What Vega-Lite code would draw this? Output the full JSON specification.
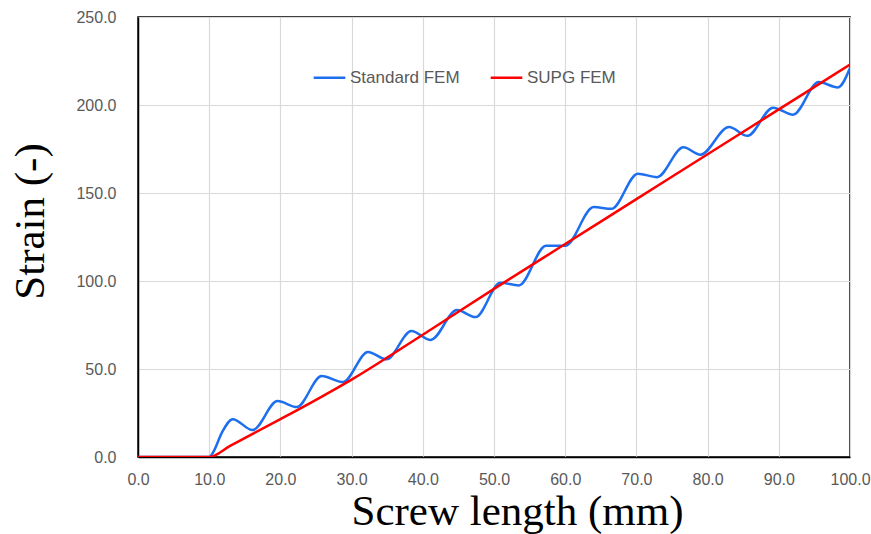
{
  "$schema": "https://vega.github.io/schema/vega-lite/v6.json",
  "width": 712,
  "height": 440,
  "autosize": "none",
  "padding": {"left": 138, "top": 17, "right": 21, "bottom": 77},
  "background": "white",
  "config": {
    "view": {"stroke": "#000000", "strokeWidth": 1.5},
    "axis": {"labelFont": "Liberation Sans", "labelFontSize": 16, "labelColor": "#595959", "titleFont": "Liberation Serif", "titleFontWeight": "normal", "titleColor": "#000000", "gridColor": "#d9d9d9", "gridWidth": 1.2, "ticks": false, "domainColor": "#000000", "domainWidth": 1.5}
  },
  "data": {
    "values": [
      {"x": 0, "y": 0, "s": "Standard FEM"},
      {"x": 10, "y": 0, "s": "Standard FEM"},
      {"x": 10.6, "y": 3, "s": "Standard FEM"},
      {"x": 11.8, "y": 14, "s": "Standard FEM"},
      {"x": 13.3, "y": 21.5, "s": "Standard FEM"},
      {"x": 16.1, "y": 15.3, "s": "Standard FEM"},
      {"x": 19.6, "y": 31.8, "s": "Standard FEM"},
      {"x": 22.3, "y": 28.4, "s": "Standard FEM"},
      {"x": 25.8, "y": 46, "s": "Standard FEM"},
      {"x": 28.8, "y": 42.6, "s": "Standard FEM"},
      {"x": 32.3, "y": 59.7, "s": "Standard FEM"},
      {"x": 34.9, "y": 55.5, "s": "Standard FEM"},
      {"x": 38.4, "y": 71.6, "s": "Standard FEM"},
      {"x": 41.1, "y": 66.5, "s": "Standard FEM"},
      {"x": 44.8, "y": 83.5, "s": "Standard FEM"},
      {"x": 47.4, "y": 79.5, "s": "Standard FEM"},
      {"x": 50.9, "y": 99, "s": "Standard FEM"},
      {"x": 53.5, "y": 97.5, "s": "Standard FEM"},
      {"x": 57.3, "y": 120, "s": "Standard FEM"},
      {"x": 60, "y": 120, "s": "Standard FEM"},
      {"x": 64, "y": 142, "s": "Standard FEM"},
      {"x": 66.5, "y": 141, "s": "Standard FEM"},
      {"x": 70.2, "y": 161, "s": "Standard FEM"},
      {"x": 72.9, "y": 159, "s": "Standard FEM"},
      {"x": 76.6, "y": 176, "s": "Standard FEM"},
      {"x": 79, "y": 171.8, "s": "Standard FEM"},
      {"x": 83, "y": 187.5, "s": "Standard FEM"},
      {"x": 85.6, "y": 182.5, "s": "Standard FEM"},
      {"x": 89.2, "y": 198.5, "s": "Standard FEM"},
      {"x": 92, "y": 194.5, "s": "Standard FEM"},
      {"x": 95.6, "y": 213, "s": "Standard FEM"},
      {"x": 98.3, "y": 210, "s": "Standard FEM"},
      {"x": 100, "y": 221, "s": "Standard FEM"},
      {"x": 0, "y": 0, "s": "SUPG FEM"},
      {"x": 10, "y": 0, "s": "SUPG FEM"},
      {"x": 13, "y": 6.5, "s": "SUPG FEM"},
      {"x": 20, "y": 21.5, "s": "SUPG FEM"},
      {"x": 25, "y": 32.5, "s": "SUPG FEM"},
      {"x": 30, "y": 44, "s": "SUPG FEM"},
      {"x": 40, "y": 69.5, "s": "SUPG FEM"},
      {"x": 50, "y": 95.5, "s": "SUPG FEM"},
      {"x": 60, "y": 121, "s": "SUPG FEM"},
      {"x": 70, "y": 146.5, "s": "SUPG FEM"},
      {"x": 80, "y": 172, "s": "SUPG FEM"},
      {"x": 90, "y": 197.5, "s": "SUPG FEM"},
      {"x": 100, "y": 223, "s": "SUPG FEM"}
    ]
  },
  "mark": {"type": "line", "interpolate": "monotone", "strokeWidth": 2.5, "clip": true},
  "encoding": {
    "x": {
      "field": "x", "type": "quantitative",
      "scale": {"domain": [0, 100], "nice": false},
      "axis": {"values": [0,10,20,30,40,50,60,70,80,90,100], "format": ".1f", "labelFlush": false, "labelPadding": 14, "title": "Screw length (mm)", "titleFontSize": 43, "titleX": 379, "titleY": 67, "titleBaseline": "alphabetic"}
    },
    "y": {
      "field": "y", "type": "quantitative",
      "scale": {"domain": [0, 250], "nice": false},
      "axis": {"values": [0,50,100,150,200,250], "format": ".1f", "labelFlush": false, "labelPadding": 22, "title": "Strain (-)", "titleFontSize": 43, "titleX": -95, "titleY": 204, "titleBaseline": "alphabetic", "titleAngle": -90}
    },
    "color": {
      "field": "s", "type": "nominal",
      "scale": {"domain": ["Standard FEM", "SUPG FEM"], "range": ["#1e6ff0", "#ff0000"]},
      "legend": {"title": null, "orient": "none", "direction": "horizontal", "legendX": 174, "legendY": 43, "symbolType": "stroke", "symbolSize": 1000, "symbolStrokeWidth": 2.5, "labelFont": "Liberation Sans", "labelFontSize": 17, "labelColor": "#595959", "columnPadding": 25, "labelOffset": 3}
    },
    "order": {"field": "s"}
  }
}
